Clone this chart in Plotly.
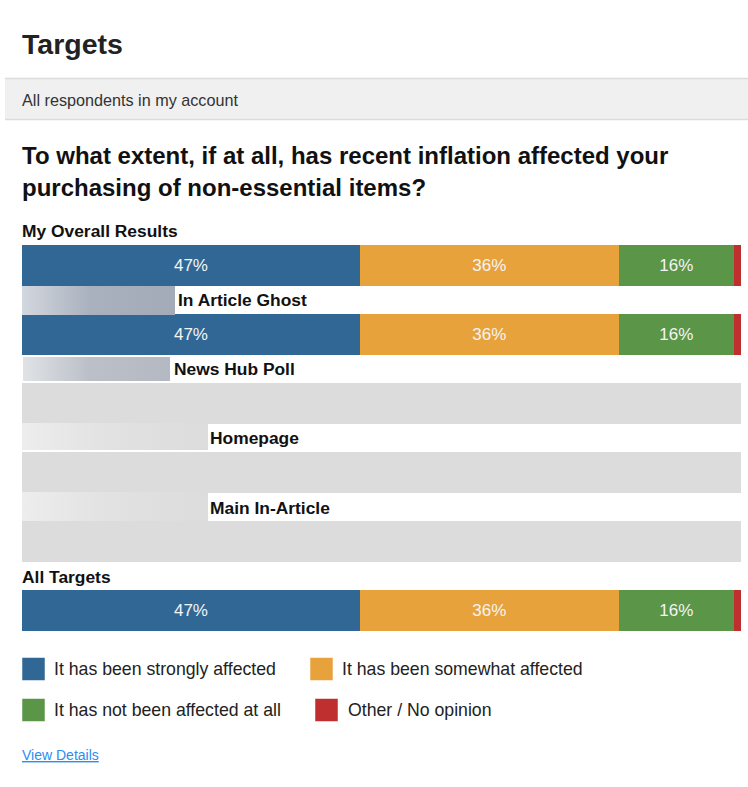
import base64
import plotly.graph_objects as go

# ---- data -------------------------------------------------------------
targets = ["My Overall Results", "In Article Ghost", "News Hub Poll",
           "Homepage", "Main In-Article", "All Targets"]
answers = ["It has been strongly affected", "It has been somewhat affected",
           "It has not been affected at all", "Other / No opinion"]
strongly = [47, 47, None, None, None, 47]
somewhat = [36, 36, None, None, None, 36]
not_at_all = [16, 16, None, None, None, 16]
other = [1, 1, None, None, None, 1]
has_data = [True, True, False, False, False, True]

series = [strongly, somewhat, not_at_all, other]
colors = ["#306795", "#e8a23c", "#5b9548", "#bf2f30"]
show_pct = [True, True, True, False]
empty_color = "#dcdcdc"

title = "Targets"
subset = "All respondents in my account"
question = ["To what extent, if at all, has recent inflation affected your",
            "purchasing of non-essential items?"]

# ---- page geometry ----------------------------------------------------
W, H = 748, 787
ROW0, PITCH, BAR_H = 265.5, 69.0, 41.0   # bar centre of first row, spacing, thickness
X0, X1 = 22, 741                          # horizontal extent of bars
FONT = "Liberation Sans, Arial, sans-serif"
PAD = 2                                   # annotation inner padding in plotly


def px(x):
    return x / W


def py(y):
    return 1 - y / H


def row_px(i):
    return ROW0 + PITCH * i


def text_at(text, x, y, size, color, anchor="left"):
    return dict(text=text, x=px(x - PAD), y=py(y), xref="paper", yref="paper",
                xanchor=anchor, yanchor="middle", showarrow=False,
                font=dict(size=size, color=color))


fig = go.Figure()

for vals, name, col, lab in zip(series, answers, colors, show_pct):
    fig.add_trace(go.Bar(
        y=targets, x=vals, name=name, orientation="h",
        marker=dict(color=col, line=dict(width=0)),
        width=BAR_H / PITCH,
        texttemplate="%{x:.0f}%" if lab else "",
        textposition="inside", insidetextanchor="middle", textangle=0,
        textfont=dict(family=FONT, size=17, color="#f4f4f4"),
        hovertemplate="%{y}<br>" + name + ": %{x}%<extra></extra>",
        showlegend=False,
    ))

# rows without responses are drawn as an empty grey band
fig.add_trace(go.Bar(
    y=targets, x=[None if d else 100 for d in has_data], orientation="h",
    marker=dict(color=empty_color, line=dict(width=0)),
    width=BAR_H / PITCH, hoverinfo="skip", showlegend=False,
))

y_top = -ROW0 / PITCH
y_bot = (H - ROW0) / PITCH
fig.update_layout(
    barmode="stack", width=W, height=H,
    margin=dict(l=0, r=0, t=0, b=0),
    paper_bgcolor="white", plot_bgcolor="white",
    xaxis=dict(domain=[px(X0), px(X1)], range=[0, 100], visible=False, fixedrange=True),
    yaxis=dict(domain=[0, 1], range=[y_bot, y_top], visible=False, fixedrange=True,
               categoryorder="array", categoryarray=targets),
    font=dict(family=FONT),
)

shapes, annos, images = [], [], []

# header
annos.append(text_at(f"<b>{title}</b>", 22, 44, 28.5, "#222222"))
shapes.append(dict(type="rect", xref="paper", yref="paper", x0=px(5), x1=1,
                   y0=py(78), y1=py(120), fillcolor="#f0f0f0", line=dict(width=0), layer="below"))
for yy in (78.5, 119.5):
    shapes.append(dict(type="line", xref="paper", yref="paper", x0=px(5), x1=1,
                       y0=py(yy), y1=py(yy), line=dict(color="#dcdcdc", width=1.5)))
annos.append(text_at(subset, 22, 100, 16.2, "#333333"))

# question
for k, line in enumerate(question):
    annos.append(text_at(f"<b>{line}</b>", 22, 155 + 33 * k, 24, "#111111"))

# row captions; the account-specific prefixes are masked
label_x = [22, 178, 174, 210, 210, 22]
masks = {
    1: (22, 175, 286, 315, ["#d3d7de", "#a9b1be", "#a3abb9"]),
    2: (23, 170, 357, 381, ["#e0e2e6", "#bbc0c8", "#b3b8c2"]),
    3: (22, 208, 423, 450, ["#ededed", "#e2e2e2", "#dcdcdc"]),
    4: (22, 208, 492, 521, ["#ededed", "#e2e2e2", "#dcdcdc"]),
}
for i, name in enumerate(targets):
    cy = row_px(i) - 34
    annos.append(text_at(f"<b>{name}</b>", label_x[i], cy, 17.4, "#111111"))
    if i in masks:
        x0, x1, y0, y1, (c0, c1, c2) = masks[i]
        svg = ('<svg xmlns="http://www.w3.org/2000/svg" width="100" height="20" '
               'preserveAspectRatio="none"><defs><linearGradient id="g">'
               f'<stop offset="0" stop-color="{c0}"/><stop offset="0.45" stop-color="{c1}"/>'
               f'<stop offset="1" stop-color="{c2}"/></linearGradient></defs>'
               '<rect width="100" height="20" fill="url(#g)"/></svg>')
        src = "data:image/svg+xml;base64," + base64.b64encode(svg.encode()).decode()
        images.append(dict(source=src, xref="paper", yref="paper", x=px(x0), y=py(y0),
                           sizex=px(x1 - x0), sizey=(y1 - y0) / H, sizing="stretch",
                           xanchor="left", yanchor="top", layer="above"))

# legend
slots = [(22, 669, 54), (310, 669, 342), (22, 710, 54), (315, 710, 348)]
for (sx, sy, tx), name, col in zip(slots, answers, colors):
    shapes.append(dict(type="rect", xref="paper", yref="paper", x0=px(sx), x1=px(sx + 23),
                       y0=py(sy - 11.5), y1=py(sy + 11.5), fillcolor=col,
                       line=dict(color="rgba(255,255,255,0.5)", width=1)))
    annos.append(text_at(name, tx, sy, 17.7, "#222222"))

annos.append(text_at("<u>View Details</u>", 22, 755, 14, "#2b8ef0"))

fig.update_layout(shapes=shapes, annotations=annos, images=images)
fig.write_html("out.html")
